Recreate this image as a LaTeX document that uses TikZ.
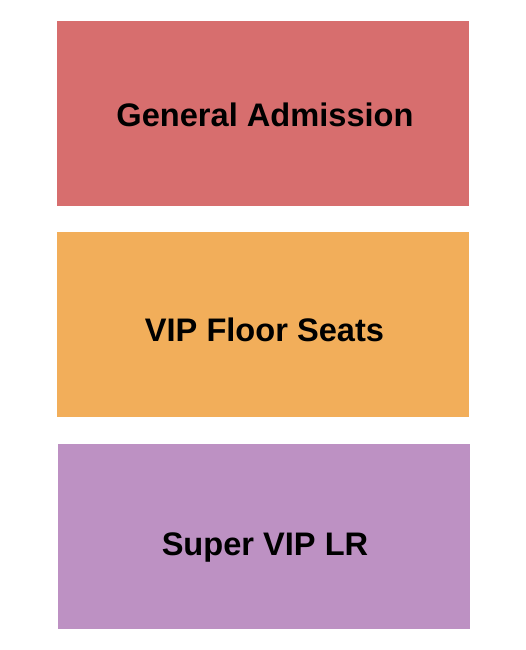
\documentclass[tikz,border=0pt]{standalone}
\usepackage{fontspec}
\setmainfont{Liberation Sans}
\definecolor{gaRed}{HTML}{D76E6E}
\definecolor{vipOrange}{HTML}{F2AE5A}
\definecolor{superPurple}{HTML}{BD91C3}
\begin{document}
\begin{tikzpicture}[x=1pt,y=-1pt,
  section/.style={inner sep=0pt, outer sep=0pt, minimum width=412pt, minimum height=184.5pt, anchor=north west},
  sectionlabel/.style={inner sep=0pt, anchor=base, font=\fontsize{32.6}{38}\selectfont\bfseries, text=black}]
\useasboundingbox (0,0) rectangle (525,650);
\node[section, fill=gaRed] (ga) at (57,21) {};
\node[section, fill=vipOrange] (vip) at (57,232) {};
\node[section, fill=superPurple] (svip) at (58,444) {};
\node[sectionlabel] (galabel) at (265,126) {General Admission};
\node[sectionlabel] (viplabel) at (264.5,341) {VIP Floor Seats};
\node[sectionlabel] (sviplabel) at (265,555) {Super VIP LR};
\end{tikzpicture}
\end{document}
